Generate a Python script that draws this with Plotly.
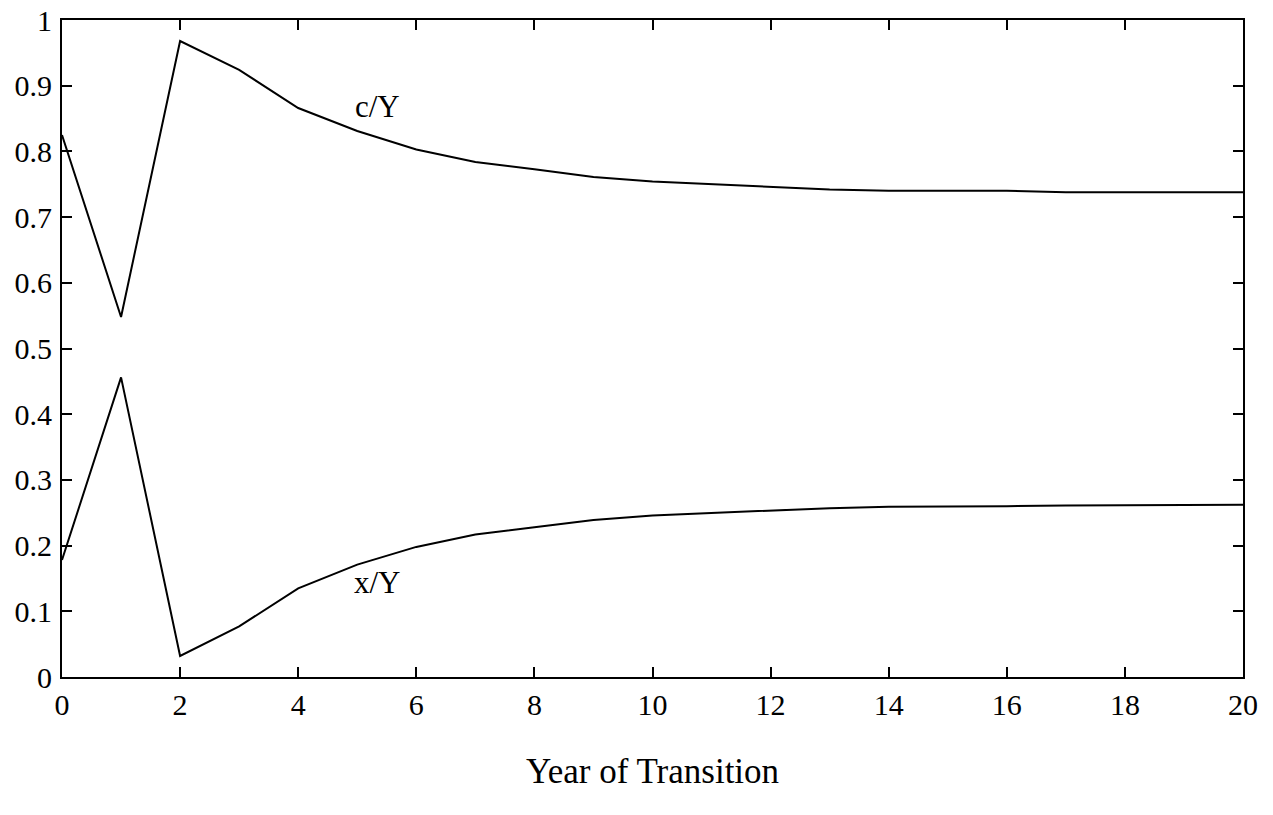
import plotly.graph_objects as go

years = list(range(0, 21))
c_over_Y = [0.825, 0.548, 0.968, 0.924, 0.866, 0.831, 0.803, 0.784, 0.773, 0.761, 0.754,
            0.750, 0.745, 0.742, 0.740, 0.740, 0.740, 0.738, 0.738, 0.737, 0.738]
x_over_Y = [0.178, 0.456, 0.032, 0.077, 0.135, 0.171, 0.198, 0.217, 0.228, 0.239, 0.246,
            0.250, 0.254, 0.257, 0.259, 0.259, 0.260, 0.261, 0.261, 0.262, 0.262]

labels = ["c/Y", "x/Y"]
label_x = [5.35, 5.35]
label_y = [0.869, 0.144]

FONT = "Liberation Serif, Times New Roman, serif"

fig = go.Figure()
for name, vals in zip(labels, [c_over_Y, x_over_Y]):
    fig.add_trace(go.Scatter(x=years, y=vals, mode="lines", name=name,
                             line=dict(color="black", width=2), showlegend=False))

for t, lx, ly in zip(labels, label_x, label_y):
    fig.add_annotation(x=lx, y=ly, text=t, showarrow=False,
                       font=dict(family=FONT, size=31, color="black"))

axis_common = dict(showline=True, linecolor="black", linewidth=2, mirror="ticks",
                   ticks="inside", ticklen=10, tickwidth=2, tickcolor="black",
                   showgrid=False, zeroline=False, automargin=False,
                   tickfont=dict(family=FONT, size=30, color="black"))

fig.update_xaxes(range=[0, 20], tick0=0, dtick=2,
                 title=dict(text="Year of Transition", standoff=38,
                            font=dict(family=FONT, size=35, color="black")),
                 **axis_common)
fig.update_yaxes(range=[0, 1], tick0=0, dtick=0.1, ticklabelstandoff=2, **axis_common)

fig.update_layout(width=1273, height=815, plot_bgcolor="white", paper_bgcolor="white",
                  margin=dict(l=62, r=30, t=20, b=138))

fig.write_html("out.html")
